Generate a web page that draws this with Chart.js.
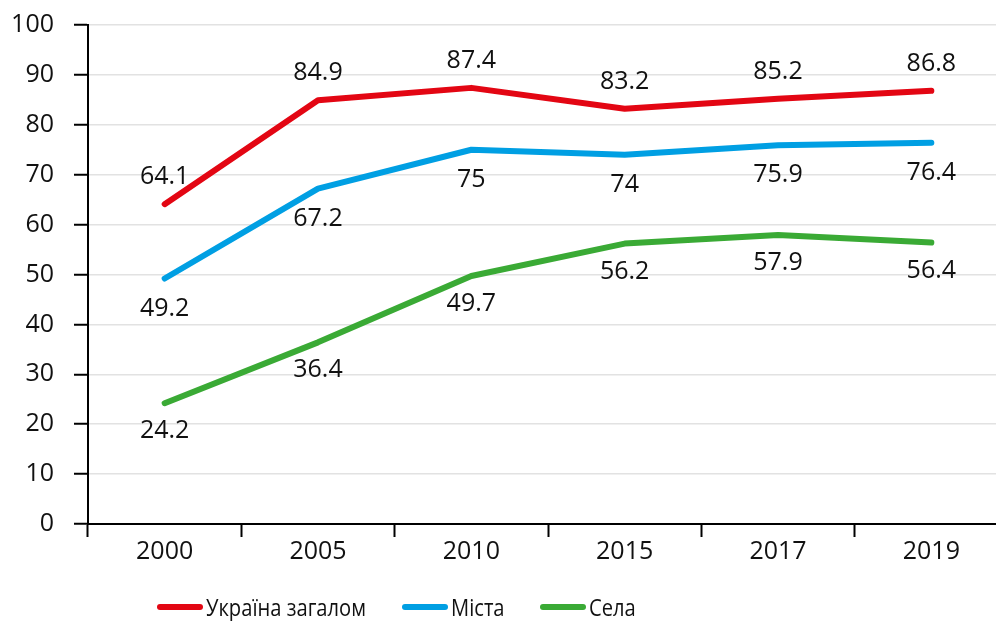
<!DOCTYPE html>
<html>
<head>
<meta charset="utf-8">
<script src="https://cdn.jsdelivr.net/npm/chart.js@4.4.1/dist/chart.umd.min.js"></script>
<style>
  html, body { margin:0; padding:0; background:#fff; overflow:hidden; }
  #wrap { position:relative; width:1008px; height:621px; }
  #legend { position:absolute; left:0; top:590px; width:1008px; height:32px;
            font-family:"Open Sans", sans-serif; font-size:24px; color:#111; }
  .item { position:absolute; top:0; display:flex; align-items:center; white-space:nowrap; }
  .swatch { width:46px; height:6px; border-radius:3px; margin-right:3px; }
  .txt { display:inline-block; transform:scaleX(0.84); transform-origin:left center; }
</style>
</head>
<body>
<div id="wrap">
  <canvas id="chart"></canvas>
  <div id="legend"></div>
</div>
<script>
var years = ['2000', '2005', '2010', '2015', '2017', '2019'];
var ukraine = [64.1, 84.9, 87.4, 83.2, 85.2, 86.8];
var cities = [49.2, 67.2, 75, 74, 75.9, 76.4];
var villages = [24.2, 36.4, 49.7, 56.2, 57.9, 56.4];
var seriesNames = ['Україна загалом', 'Міста', 'Села'];
var colors = ['#e30613', '#009fe3', '#3aaa35'];
// label offset from the point: negative above, positive below
var labelShift = [-27, 30, 28];
// legend items left edge
var legendLeft = [157, 402, 540];

var FONT = '"Open Sans", sans-serif';

var labelPlugin = {
    id: 'pointLabels',
    afterDatasetsDraw(chart) {
        var ctx = chart.ctx;
        ctx.save();
        ctx.font = '25px ' + FONT;
        ctx.fillStyle = '#111';
        ctx.textAlign = 'center';
        ctx.textBaseline = 'middle';
        chart.data.datasets.forEach((ds, i) => {
            var meta = chart.getDatasetMeta(i);
            meta.data.forEach((pt, j) => {
                ctx.fillText(String(ds.data[j]), pt.x, pt.y + labelShift[i]);
            });
        });
        ctx.restore();
    }
};

var ctx = document.getElementById('chart');
var chart = new Chart(ctx, {
    type: 'line',
    data: {
        labels: years,
        datasets: [ukraine, cities, villages].map((d, i) => ({
            label: seriesNames[i],
            data: d,
            borderColor: colors[i],
            backgroundColor: colors[i],
            borderWidth: 6,
            borderCapStyle: 'round',
            borderJoinStyle: 'round',
            pointRadius: 0,
            tension: 0
        }))
    },
    options: {
        responsive: true,
        maintainAspectRatio: false,
        animation: false,
        layout: { padding: { top: 25, right: 0, bottom: 50, left: 0 } },
        plugins: { legend: { display: false }, tooltip: { enabled: false } },
        scales: {
            x: {
                offset: true,
                grid: { offset: true, drawOnChartArea: false, drawTicks: true, tickLength: 13, tickColor: '#000', tickWidth: 2 },
                border: { color: '#000', width: 2 },
                ticks: { color: '#111', font: { family: FONT, size: 25 }, padding: 0 },
                afterFit(s) { s.height = 47; s.paddingLeft = 0; s.paddingRight = 0; }
            },
            y: {
                min: 0, max: 100,
                ticks: { stepSize: 10, color: '#111', font: { family: FONT, size: 25 }, padding: 20 },
                grid: { color: '#e2e2e2', lineWidth: 1.5, tickLength: 14, tickColor: '#000', tickWidth: 2 },
                border: { color: '#000', width: 2 },
                afterFit(s) { s.width = 88; s.paddingTop = 0; s.paddingBottom = 0; }
            }
        }
    },
    plugins: [labelPlugin]
});

var legend = document.getElementById('legend');
seriesNames.forEach((n, i) => {
    var it = document.createElement('div');
    it.className = 'item';
    it.style.left = legendLeft[i] + 'px';
    it.innerHTML = '<span class="swatch" style="background:' + colors[i] + '"></span><span class="txt">' + n + '</span>';
    legend.appendChild(it);
});
</script>
</body>
</html>
